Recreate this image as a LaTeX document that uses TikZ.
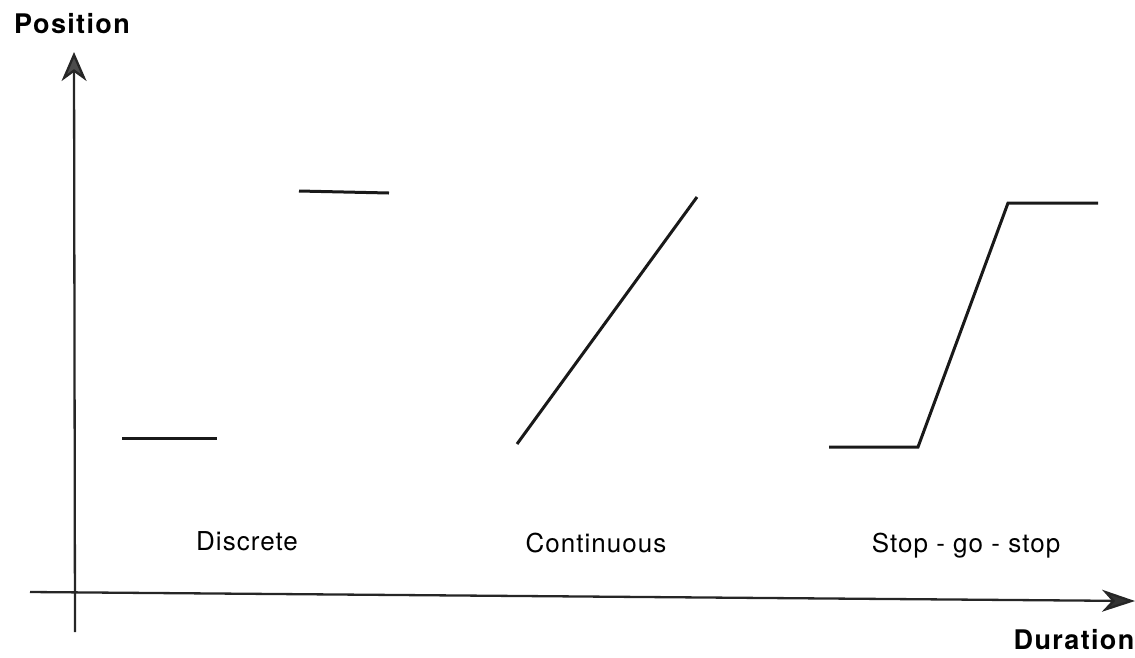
\documentclass[tikz,border=0pt]{standalone}
\usepackage{fontspec}
\setmainfont{TeX Gyre Heros}
\newfontfamily\lblfont[LetterSpace=4]{TeX Gyre Heros}
\newfontfamily\axfont[LetterSpace=5]{TeX Gyre Heros}
\usetikzlibrary{arrows.meta}
\begin{document}
\begin{tikzpicture}[x=1pt,y=-1pt,
  axis/.style={line width=2.3pt,black!85},
  curve/.style={line width=3pt,black!90,line join=miter},
  lbl/.style={font=\lblfont\fontsize{26}{30}\selectfont,inner sep=0pt},
  axlbl/.style={font=\axfont\fontsize{27}{30}\selectfont\bfseries,inner sep=0pt}]
\useasboundingbox (0,0) rectangle (1135,657);
% axes
\coordinate (ybot) at (75,632);
\coordinate (ytop) at (74,52);
\coordinate (xl) at (30,592);
\coordinate (xr) at (1135,601);
\draw[axis,-{Stealth[length=29pt,width=25pt,inset=9pt,fill=black!70]}] (ybot) -- (ytop);
\draw[axis,-{Stealth[length=33pt,width=22pt,inset=10pt,fill=black!80]}] (xl) -- (xr);
\node[axlbl] (pos) at (72,24) {Position};
\node[axlbl] (dur) at (1074,640) {Duration};
% discrete
\coordinate (d1a) at (122,438); \coordinate (d1b) at (217,438);
\coordinate (d2a) at (299,191); \coordinate (d2b) at (389,193);
\draw[curve] (d1a) -- (d1b);
\draw[curve] (d2a) -- (d2b);
% continuous
\coordinate (c1) at (517,444); \coordinate (c2) at (697,197);
\draw[curve] (c1) -- (c2);
% stop-go-stop
\coordinate (s1) at (829,447); \coordinate (s2) at (918,447);
\coordinate (s3) at (1008,203); \coordinate (s4) at (1098,203);
\draw[curve] (s1) -- (s2) -- (s3) -- (s4);
% labels
\node[lbl,anchor=base] (ld) at (247,550) {Discrete};
\node[lbl,anchor=base] (lc) at (596,552) {Continuous};
\node[lbl,anchor=base] (ls) at (966,552) {Stop - go - stop};
\end{tikzpicture}
\end{document}
